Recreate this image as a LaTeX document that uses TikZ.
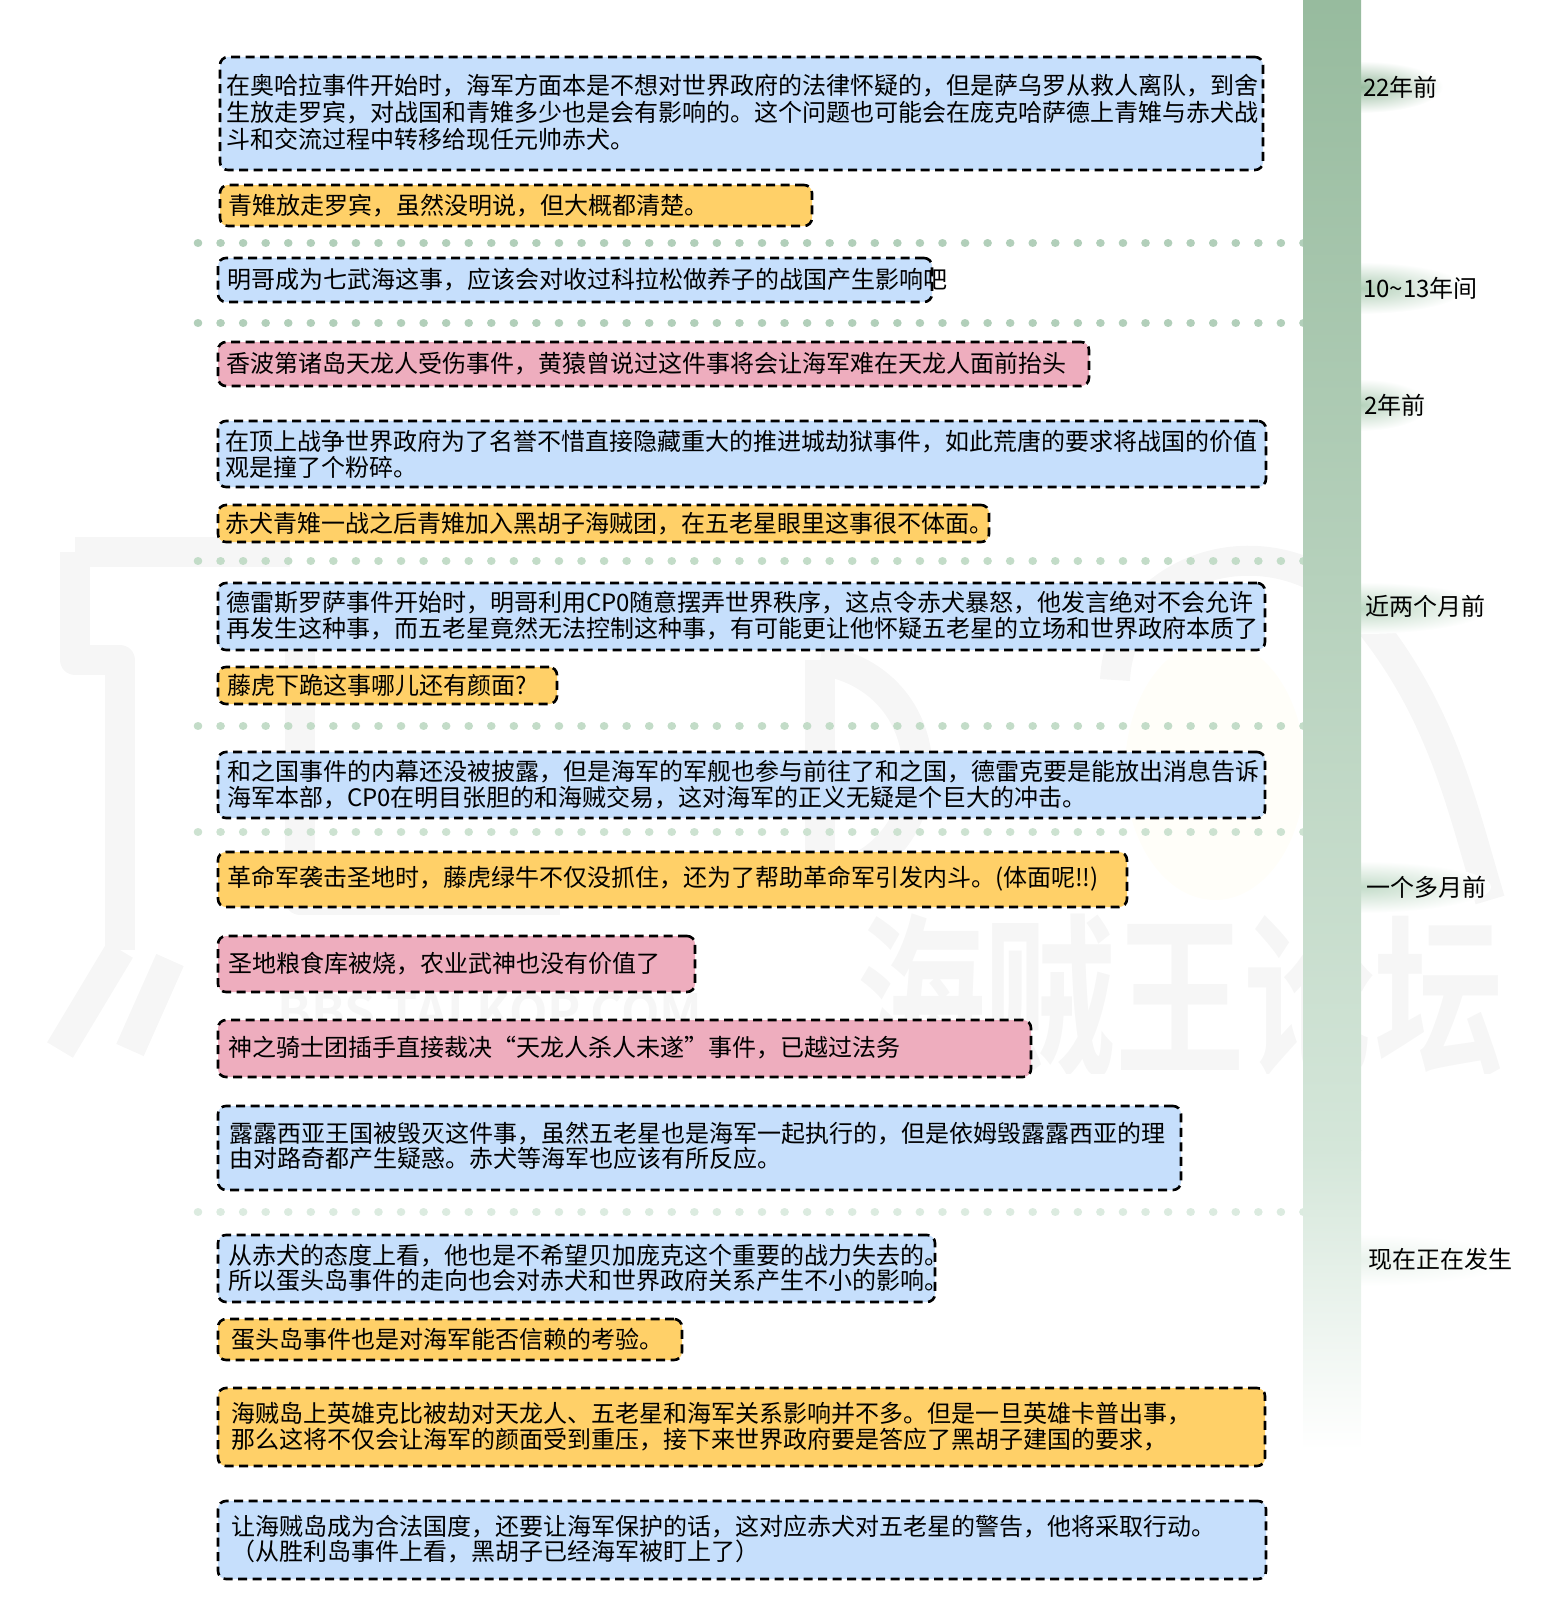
\documentclass[tikz,border=0pt]{standalone}
\usepackage{fontspec}
\setmainfont{Noto Sans CJK SC}
\newfontfamily\wmfont[Scale=1]{Noto Sans CJK SC Bold}
\definecolor{evblue}{HTML}{C6DFFC}
\definecolor{evyellow}{HTML}{FFD068}
\definecolor{evpink}{HTML}{EEADBE}
\definecolor{wmgrey}{HTML}{F6F6F6}
\definecolor{wmcream}{HTML}{FFFEF9}
\definecolor{barA}{HTML}{97BB9E}
\definecolor{barB}{HTML}{BDD8C3}
\definecolor{barC}{HTML}{D4E6D9}
\definecolor{rowA}{HTML}{B2CFBA}
\definecolor{rowB}{HTML}{C3DCC8}
\definecolor{rowC}{HTML}{CDE2D1}
\definecolor{rowD}{HTML}{DCEBE0}
\tikzset{
  evbox/.style={draw=black,line width=2.6pt,dash pattern=on 9pt off 5.5pt,rounded corners=8pt,
    anchor=north west,outer sep=0pt,inner ysep=0pt,align=left,text=black,
    font=\fontsize{24}{26}\selectfont},
  bluebox/.style={evbox,fill=evblue},
  yellowbox/.style={evbox,fill=evyellow},
  pinkbox/.style={evbox,fill=evpink},
  raiseup/.style={execute at end node={\par\vspace{#1}}},
  dotrow/.style={line width=8.6pt,line cap=round,dash pattern=on 0.01pt off 22.55pt},
  timelabel/.style={anchor=west,inner sep=0pt,text=black,font=\fontsize{24}{26}\selectfont}
}
\begin{document}
\begin{tikzpicture}[x=1pt,y=-1pt]
      \useasboundingbox (0,0) rectangle (1556,1603);
      \begin{scope}
        \clip (0,500) rectangle (1556,1073);
        \fill[wmcream] (1215,770) ellipse (90 and 130);
        \begin{scope}[draw=wmgrey,line width=30pt,line join=round]
          \draw (75,552) -- (290,552);
          \draw (75,552) -- (75,660) -- (120,660) -- (120,950);
          \draw (120,950) -- (60,1050);
          \draw (170,960) -- (130,1050);
          \draw (300,620) -- (300,900) -- (560,900);
          \draw (820,660) .. controls (950,680) and (950,860) .. (820,880);
          \draw (820,660) -- (820,880);
          \draw (1115,680) .. controls (1120,570) and (1260,520) .. (1350,600);
          \draw (1350,600) .. controls (1440,700) and (1460,800) .. (1490,900);
        \end{scope}
        \node[text=wmgrey,font=\wmfont\fontsize{175}{175}\selectfont,xscale=0.74,inner sep=0pt] (wmlogo) at (1180,998) {海贼王论坛};
        \node[text=wmgrey,font=\wmfont\fontsize{50}{50}\selectfont,inner sep=0pt] (wmsite) at (490,1012) {BBS.TALKOP.COM};
      \end{scope}
      \draw
        (198,243) coordinate (d1a)
        (1310,243) coordinate (d1b)
        (198,323) coordinate (d2a)
        (1310,323) coordinate (d2b)
        (198,561) coordinate (d3a)
        (1310,561) coordinate (d3b)
        (198,726) coordinate (d4a)
        (1310,726) coordinate (d4b)
        (198,832) coordinate (d5a)
        (1310,832) coordinate (d5b)
        (198,1212) coordinate (d6a)
        (1310,1212) coordinate (d6b);
      \begin{scope}[dotrow]
        \draw[rowA] (d1a) to (d1b);
        \draw[rowA] (d2a) to (d2b);
        \draw[rowB] (d3a) to (d3b);
        \draw[rowB] (d4a) to (d4b);
        \draw[rowC] (d5a) to (d5b);
        \draw[rowD] (d6a) to (d6b);
      \end{scope}
      \begin{scope}
        \clip (1361,0) rectangle (1556,1603);
        \shade[inner color=barA,outer color=white] (1361,87) ellipse (82 and 26);
        \shade[inner color=barB!70!barA,outer color=white] (1361,288) ellipse (105 and 26);
        \shade[inner color=barB!80!barA,outer color=white] (1361,405) ellipse (68 and 26);
        \shade[inner color=barB,outer color=white] (1361,608) ellipse (130 and 26);
        \shade[inner color=barB!70!barC,outer color=white] (1361,887) ellipse (130 and 26);
        \shade[inner color=barC!50,outer color=white] (1361,1260) ellipse (155 and 26);
      \end{scope}
      \shade[top color=barA,middle color=barB,bottom color=barC] (1303,0) rectangle (1361,1150);
      \shade[top color=barC,bottom color=white] (1303,1150) rectangle (1361,1450);
      \draw
        (220,57) node[bluebox,text width=1031pt,inner xsep=6pt,minimum height=113pt,font=\fontsize{24}{27}\selectfont,raiseup=3pt] (e1){在奥哈拉事件开始时，海军方面本是不想对世界政府的法律怀疑的，但是萨乌罗从救人离队，到舍\\生放走罗宾，对战国和青雉多少也是会有影响的。这个问题也可能会在庞克哈萨德上青雉与赤犬战\\斗和交流过程中转移给现任元帅赤犬。}
        (220,185) node[yellowbox,text width=576pt,inner xsep=8pt,minimum height=41pt] (e2){青雉放走罗宾，虽然没明说，但大概都清楚。}
        (218,258) node[bluebox,text width=696pt,inner xsep=9pt,minimum height=44pt] (e3){明哥成为七武海这事，应该会对收过科拉松做养子的战国产生影响吧}
        (218,342) node[pinkbox,text width=855pt,inner xsep=8pt,minimum height=44pt] (e4){香波第诸岛天龙人受伤事件，黄猿曾说过这件事将会让海军难在天龙人面前抬头}
        (218,421) node[bluebox,text width=1034pt,inner xsep=7pt,minimum height=66pt] (e5){在顶上战争世界政府为了名誉不惜直接隐藏重大的推进城劫狱事件，如此荒唐的要求将战国的价值\\观是撞了个粉碎。}
        (218,505) node[yellowbox,text width=757pt,inner xsep=7pt,minimum height=37pt] (e6){赤犬青雉一战之后青雉加入黑胡子海贼团，在五老星眼里这事很不体面。}
        (218,583) node[bluebox,text width=1031pt,inner xsep=8pt,minimum height=67pt,raiseup=2pt] (e7){德雷斯罗萨事件开始时，明哥利用CP0随意摆弄世界秩序，这点令赤犬暴怒，他发言绝对不会允许\\再发生这种事，而五老星竟然无法控制这种事，有可能更让他怀疑五老星的立场和世界政府本质了}
        (218,667) node[yellowbox,text width=321pt,inner xsep=9pt,minimum height=37pt] (e8){藤虎下跪这事哪儿还有颜面?}
        (218,752) node[bluebox,text width=1029pt,inner xsep=9pt,minimum height=66pt] (e9){和之国事件的内幕还没被披露，但是海军的军舰也参与前往了和之国，德雷克要是能放出消息告诉\\海军本部，CP0在明目张胆的和海贼交易，这对海军的正义无疑是个巨大的冲击。}
        (218,852) node[yellowbox,text depth=6pt,text width=891pt,inner xsep=9pt,minimum height=55pt] (e10){革命军袭击圣地时，藤虎绿牛不仅没抓住，还为了帮助革命军引发内斗。(体面呢!!)}
        (218,936) node[pinkbox,text width=457pt,inner xsep=10pt,minimum height=56pt] (e11){圣地粮食库被烧，农业武神也没有价值了}
        (218,1020) node[pinkbox,text depth=5pt,text width=793pt,inner xsep=10pt,minimum height=57pt] (e12){神之骑士团插手直接裁决“天龙人杀人未遂”事件，已越过法务}
        (218,1106) node[bluebox,text width=941pt,inner xsep=11pt,minimum height=84pt,font=\fontsize{24}{25}\selectfont,raiseup=5pt] (e13){露露西亚王国被毁灭这件事，虽然五老星也是海军一起执行的，但是依姆毁露露西亚的理\\由对路奇都产生疑惑。赤犬等海军也应该有所反应。}
        (218,1235) node[bluebox,text width=697pt,inner xsep=10pt,minimum height=67pt,font=\fontsize{24}{25}\selectfont,raiseup=1pt] (e14){从赤犬的态度上看，他也是不希望贝加庞克这个重要的战力失去的。\\所以蛋头岛事件的走向也会对赤犬和世界政府关系产生不小的影响。}
        (218,1319) node[yellowbox,text width=438pt,inner xsep=13pt,minimum height=41pt] (e15){蛋头岛事件也是对海军能否信赖的考验。}
        (218,1388) node[yellowbox,text width=1021pt,inner xsep=13pt,minimum height=78pt] (e16){海贼岛上英雄克比被劫对天龙人、五老星和海军关系影响并不多。但是一旦英雄卡普出事，\\那么这将不仅会让海军的颜面受到重压，接下来世界政府要是答应了黑胡子建国的要求，}
        (218,1501) node[bluebox,text width=1022pt,inner xsep=13pt,minimum height=78pt,font=\fontsize{24}{25}\selectfont,raiseup=1pt] (e17){让海贼岛成为合法国度，还要让海军保护的话，这对应赤犬对五老星的警告，他将采取行动。\\（从胜利岛事件上看，黑胡子已经海军被盯上了）};
      \draw
        (1363,87) node[timelabel] (t1){22年前}
        (1363,288) node[timelabel] (t2){10\string~13年间}
        (1364,405) node[timelabel] (t3){2年前}
        (1365,606) node[timelabel] (t4){近两个月前}
        (1366,887) node[timelabel] (t5){一个多月前}
        (1368,1259) node[timelabel] (t6){现在正在发生};
    \end{tikzpicture}
\end{document}
